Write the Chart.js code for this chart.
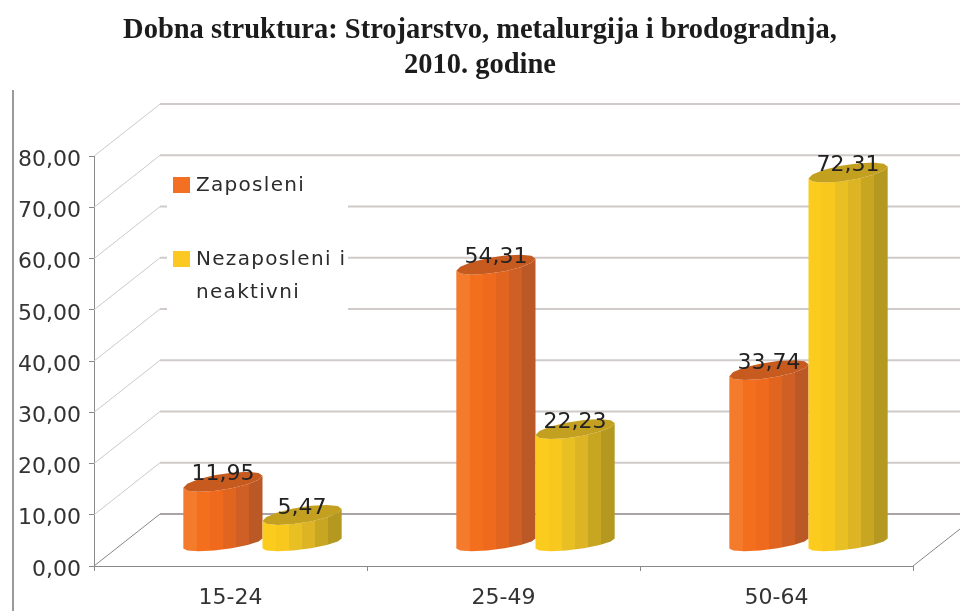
<!DOCTYPE html>
<html>
<head>
<meta charset="utf-8">
<style>
  body { margin: 0; background: #fff; }
</style>
<script src="https://cdn.jsdelivr.net/npm/chart.js@4/dist/chart.umd.min.js"></script>
</head>
<body>
<canvas id="chart" width="960" height="611"></canvas>
<script>
const titleLines = ['Dobna struktura: Strojarstvo, metalurgija i brodogradnja,', '2010. godine'];
const categories = ['15-24', '25-49', '50-64'];
const zaposleni = [11.95, 54.31, 33.74];
const nezaposleni = [5.47, 22.23, 72.31];
const seriesNames = ['Zaposleni', 'Nezaposleni i'];
const legendExtraLine = 'neaktivni';
const yTicks = [0, 10, 20, 30, 40, 50, 60, 70, 80];

const fmt = v => v.toFixed(2).replace('.', ',');

// bands of the cylinder side, left to right
const orangeBands = ['#f47a2c', '#f36f1e', '#ef6a1c', '#e2651f', '#cf5f24', '#bb5926'];
const yellowBands = ['#fbcb1e', '#f8c81e', '#e8c024', '#dcb424', '#c8a622', '#b4981f'];
const topColors = ['#c65a1f', '#c4a021'];

// oblique depth of the fake 3D
const DEPTH_X = 66, DEPTH_Y = 52;
const BAR_SHIFT_X = 32, BAR_SHIFT_Y = -23;

function bandGradient(ctx, left, right, bands) {
  const g = ctx.createLinearGradient(left, 0, right, 0);
  bands.forEach((c, i) => {
    g.addColorStop(i / bands.length, c);
    g.addColorStop((i + 1) / bands.length, c);
  });
  return g;
}

// skewed ellipse edge, left end sits lower than the right end
function rimPoint(cx, cy, a, t, b, k) {
  return [cx + a * Math.cos(t), cy + b * Math.sin(t) - k * Math.cos(t)];
}

const wallPlugin = {
  id: 'wall',
  beforeDatasetsDraw(chart) {
    const ctx = chart.ctx, y = chart.scales.y, x = chart.scales.x;
    ctx.save();
    // outer frame line of the picture
    ctx.strokeStyle = '#9a9a9a';
    ctx.lineWidth = 2;
    ctx.beginPath();
    ctx.moveTo(13, 90);
    ctx.lineTo(13, 611);
    ctx.stroke();

    yTicks.forEach(v => {
      const py = y.getPixelForValue(v);
      ctx.lineWidth = 1;
      ctx.strokeStyle = v === 0 ? '#8c8484' : '#cfc8c8';
      ctx.beginPath();
      ctx.moveTo(x.left, py);
      ctx.lineTo(x.left + DEPTH_X, py - DEPTH_Y);
      ctx.stroke();
      ctx.lineWidth = 2;
      ctx.strokeStyle = v === 0 ? '#aaa4a4' : '#d0cbc9';
      ctx.beginPath();
      ctx.moveTo(x.left + DEPTH_X, py - DEPTH_Y);
      ctx.lineTo(960, py - DEPTH_Y);
      ctx.stroke();
    });
    // right floor edge
    ctx.lineWidth = 1;
    ctx.strokeStyle = '#8c8484';
    ctx.beginPath();
    ctx.moveTo(x.right, y.bottom);
    ctx.lineTo(960, y.bottom - 37);
    ctx.stroke();
    // legend box hides the wall lines
    ctx.fillStyle = '#fff';
    ctx.fillRect(167, 163, 181, 157);
    ctx.restore();
  },
  beforeDatasetDraw() {
    return false; // native flat rectangles replaced by the cylinders below
  },
  afterDatasetsDraw(chart) {
    const ctx = chart.ctx;
    ctx.save();
    [0, 1].forEach(d => {
      const bands = d === 0 ? orangeBands : yellowBands;
      chart.getDatasetMeta(d).data.forEach(bar => {
        const a = bar.width / 2;
        const cx = bar.x + BAR_SHIFT_X;
        const top = bar.y + BAR_SHIFT_Y;
        const base = bar.base + BAR_SHIFT_Y + 1;
        const steps = 7;
        // side
        ctx.beginPath();
        for (let i = 0; i <= steps; i++) {
          const p = rimPoint(cx, base, a, Math.PI - Math.PI * i / steps, 6, 5);
          i === 0 ? ctx.moveTo(p[0], p[1]) : ctx.lineTo(p[0], p[1]);
        }
        for (let i = 0; i <= steps; i++) {
          const p = rimPoint(cx, top, a, Math.PI * i / steps, 8, 6);
          ctx.lineTo(p[0], p[1]);
        }
        ctx.closePath();
        ctx.fillStyle = bandGradient(ctx, cx - a, cx + a, bands);
        ctx.fill();
        // top cap
        ctx.beginPath();
        for (let i = 0; i < steps * 2; i++) {
          const p = rimPoint(cx, top, a, Math.PI * i / steps, 8, 6);
          i === 0 ? ctx.moveTo(p[0], p[1]) : ctx.lineTo(p[0], p[1]);
        }
        ctx.closePath();
        ctx.fillStyle = topColors[d];
        ctx.fill();
      });
    });
    // value labels
    ctx.fillStyle = '#222';
    ctx.font = '22px "DejaVu Sans"';
    ctx.textAlign = 'center';
    ctx.textBaseline = 'middle';
    [0, 1].forEach(d => {
      chart.getDatasetMeta(d).data.forEach((bar, i) => {
        const v = chart.data.datasets[d].data[i];
        ctx.fillText(fmt(v), bar.x + BAR_SHIFT_X, bar.y + BAR_SHIFT_Y - 7);
      });
    });
    // legend
    ctx.textAlign = 'left';
    ctx.fillStyle = '#f36f22';
    ctx.fillRect(173, 177, 17, 16);
    ctx.fillStyle = '#fcc822';
    ctx.fillRect(173, 251, 17, 16);
    ctx.fillStyle = '#2c2c2c';
    ctx.font = '20px "DejaVu Sans"';
    ctx.letterSpacing = '1.3px';
    ctx.fillText(seriesNames[0], 196, 186);
    ctx.fillText(seriesNames[1], 196, 260);
    ctx.fillText(legendExtraLine, 196, 293);
    ctx.restore();
  }
};

new Chart(document.getElementById('chart'), {
  type: 'bar',
  data: {
    labels: categories,
    datasets: [
      { label: seriesNames[0], data: zaposleni, backgroundColor: '#f36f22' },
      { label: seriesNames[1] + ' ' + legendExtraLine, data: nezaposleni, backgroundColor: '#fcc822' }
    ]
  },
  options: {
    responsive: false,
    animation: false,
    layout: { padding: 0 },
    datasets: { bar: { categoryPercentage: 0.58, barPercentage: 1 } },
    plugins: {
      legend: { display: false },
      tooltip: { enabled: false },
      title: {
        display: true,
        text: titleLines,
        color: '#1c1c1c',
        font: { family: '"Liberation Serif"', size: 28.5, weight: 'bold', lineHeight: 1.23 },
        padding: { top: 13, bottom: 73 }
      }
    },
    scales: {
      x: {
        afterFit(scale) { scale.height = 45; },
        grid: { drawOnChartArea: false, color: '#888', tickLength: 5 },
        border: { color: '#8a8a8a' },
        ticks: { color: '#333', font: { family: '"DejaVu Sans"', size: 22 }, padding: 14, maxRotation: 0 }
      },
      y: {
        min: 0,
        max: 80,
        afterFit(scale) { scale.width = 94; },
        afterBuildTicks(scale) { scale.ticks = yTicks.map(v => ({ value: v })); },
        grid: { drawOnChartArea: false, color: '#888', tickLength: 5 },
        border: { color: '#8a8a8a' },
        ticks: {
          color: '#333',
          font: { family: '"DejaVu Sans"', size: 22 },
          padding: 8,
          labelOffset: 4,
          callback: v => fmt(v)
        }
      },
      // empty axis, only keeps the right margin without shifting the title
      yRight: {
        position: 'right',
        afterFit(scale) { scale.width = 47; },
        grid: { display: false },
        border: { display: false },
        ticks: { display: false }
      }
    }
  },
  plugins: [wallPlugin]
});
</script>
</body>
</html>
